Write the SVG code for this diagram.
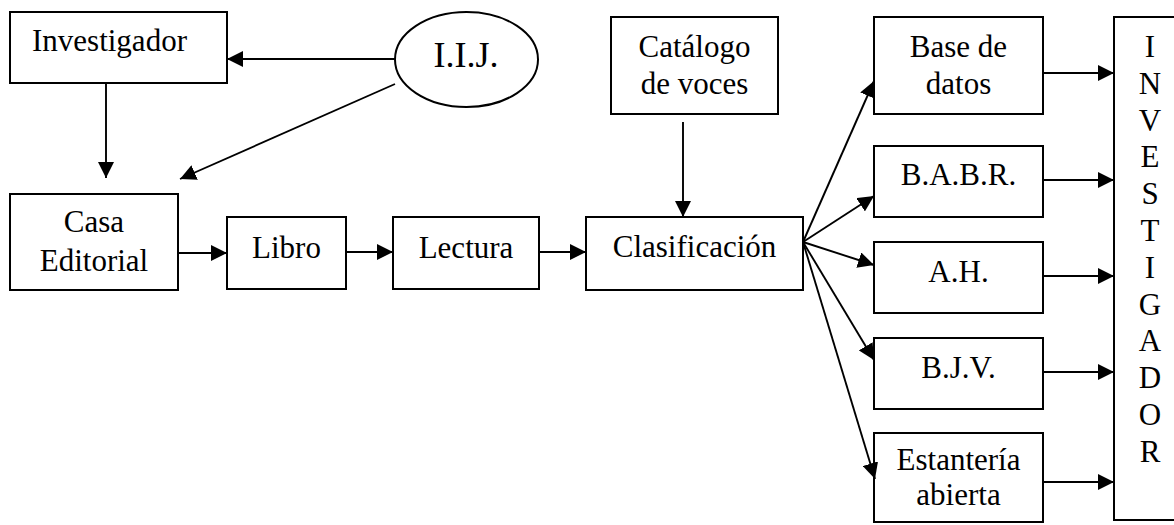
<svg xmlns="http://www.w3.org/2000/svg" width="1174" height="525" viewBox="0 0 1174 525">
  <style>
    .box { fill: #fff; stroke: #000; stroke-width: 2; }
    .lbl { font-family: "Liberation Serif", "Times New Roman", serif; font-size: 31px; fill: #000; text-anchor: middle; }
    .edge { fill: none; stroke: #000; stroke-width: 1.9; marker-end: url(#head); }
  </style>
  <defs>
    <marker id="head" viewBox="0 0 16 16" refX="16" refY="8" markerWidth="16" markerHeight="16" markerUnits="userSpaceOnUse" orient="auto">
      <path d="M0,0 L16,8 L0,16 Z" fill="#000"/>
    </marker>
  </defs>
  <rect width="1174" height="525" fill="#fff"/>

  <g id="investigador">
    <rect class="box" x="10" y="12" width="217" height="71"/>
    <text class="lbl" x="32" y="51" style="text-anchor:start">Investigador</text>
  </g>
  <g id="iij">
    <ellipse class="box" cx="466.5" cy="59.5" rx="71.5" ry="47.5"/>
    <text class="lbl" x="466" y="67" style="font-size:36px">I.I.J.</text>
  </g>
  <g id="casa-editorial">
    <rect class="box" x="10" y="194" width="168" height="96"/>
    <text class="lbl" x="94" y="232">Casa</text>
    <text class="lbl" x="94" y="271">Editorial</text>
  </g>
  <g id="libro">
    <rect class="box" x="227" y="217" width="119" height="72"/>
    <text class="lbl" x="286.5" y="258">Libro</text>
  </g>
  <g id="lectura">
    <rect class="box" x="393" y="217" width="146" height="72"/>
    <text class="lbl" x="466" y="258">Lectura</text>
  </g>
  <g id="catalogo">
    <rect class="box" x="611" y="17" width="167" height="97"/>
    <text class="lbl" x="694.5" y="57">Catálogo</text>
    <text class="lbl" x="694.5" y="94">de voces</text>
  </g>
  <g id="clasificacion">
    <rect class="box" x="586" y="217" width="217" height="73"/>
    <text class="lbl" x="694.5" y="257">Clasificación</text>
  </g>
  <g id="base-datos">
    <rect class="box" x="874" y="17" width="169" height="97"/>
    <text class="lbl" x="958.5" y="57">Base de</text>
    <text class="lbl" x="958.5" y="94">datos</text>
  </g>
  <g id="babr">
    <rect class="box" x="874" y="146" width="169" height="71"/>
    <text class="lbl" x="958.5" y="185">B.A.B.R.</text>
  </g>
  <g id="ah">
    <rect class="box" x="874" y="242" width="169" height="71"/>
    <text class="lbl" x="958.5" y="282">A.H.</text>
  </g>
  <g id="bjv">
    <rect class="box" x="874" y="338" width="169" height="71"/>
    <text class="lbl" x="958.5" y="378">B.J.V.</text>
  </g>
  <g id="estanteria">
    <rect class="box" x="874" y="433" width="169" height="89"/>
    <text class="lbl" x="958.5" y="470">Estantería</text>
    <text class="lbl" x="958.5" y="505">abierta</text>
  </g>
  <g id="investigador-final">
    <rect class="box" x="1114" y="17" width="74" height="503"/>
    <text class="lbl" x="1150" y="57">I</text>
    <text class="lbl" x="1150" y="94">N</text>
    <text class="lbl" x="1150" y="131">V</text>
    <text class="lbl" x="1150" y="167">E</text>
    <text class="lbl" x="1150" y="204">S</text>
    <text class="lbl" x="1150" y="241">T</text>
    <text class="lbl" x="1150" y="278">I</text>
    <text class="lbl" x="1150" y="315">G</text>
    <text class="lbl" x="1150" y="351">A</text>
    <text class="lbl" x="1150" y="388">D</text>
    <text class="lbl" x="1150" y="425">O</text>
    <text class="lbl" x="1150" y="462">R</text>
  </g>

  <g id="connectors">
    <line class="edge" x1="395" y1="59" x2="227" y2="59"/>
    <line class="edge" x1="395" y1="84" x2="180" y2="179"/>
    <line class="edge" x1="106" y1="83" x2="106" y2="178"/>
    <line class="edge" x1="178" y1="253" x2="227" y2="253"/>
    <line class="edge" x1="346" y1="252" x2="393" y2="252"/>
    <line class="edge" x1="539" y1="252" x2="586" y2="252"/>
    <line class="edge" x1="683" y1="122" x2="683" y2="217"/>
    <line class="edge" x1="803" y1="242" x2="874" y2="81"/>
    <line class="edge" x1="803" y1="242" x2="874" y2="196"/>
    <line class="edge" x1="803" y1="242" x2="874" y2="265"/>
    <line class="edge" x1="803" y1="242" x2="874" y2="360"/>
    <line class="edge" x1="803" y1="242" x2="875" y2="479"/>
    <line class="edge" x1="1043" y1="73" x2="1114" y2="73"/>
    <line class="edge" x1="1043" y1="180" x2="1114" y2="180"/>
    <line class="edge" x1="1043" y1="276" x2="1114" y2="276"/>
    <line class="edge" x1="1043" y1="372" x2="1114" y2="372"/>
    <line class="edge" x1="1043" y1="482" x2="1114" y2="482"/>
  </g>
</svg>
